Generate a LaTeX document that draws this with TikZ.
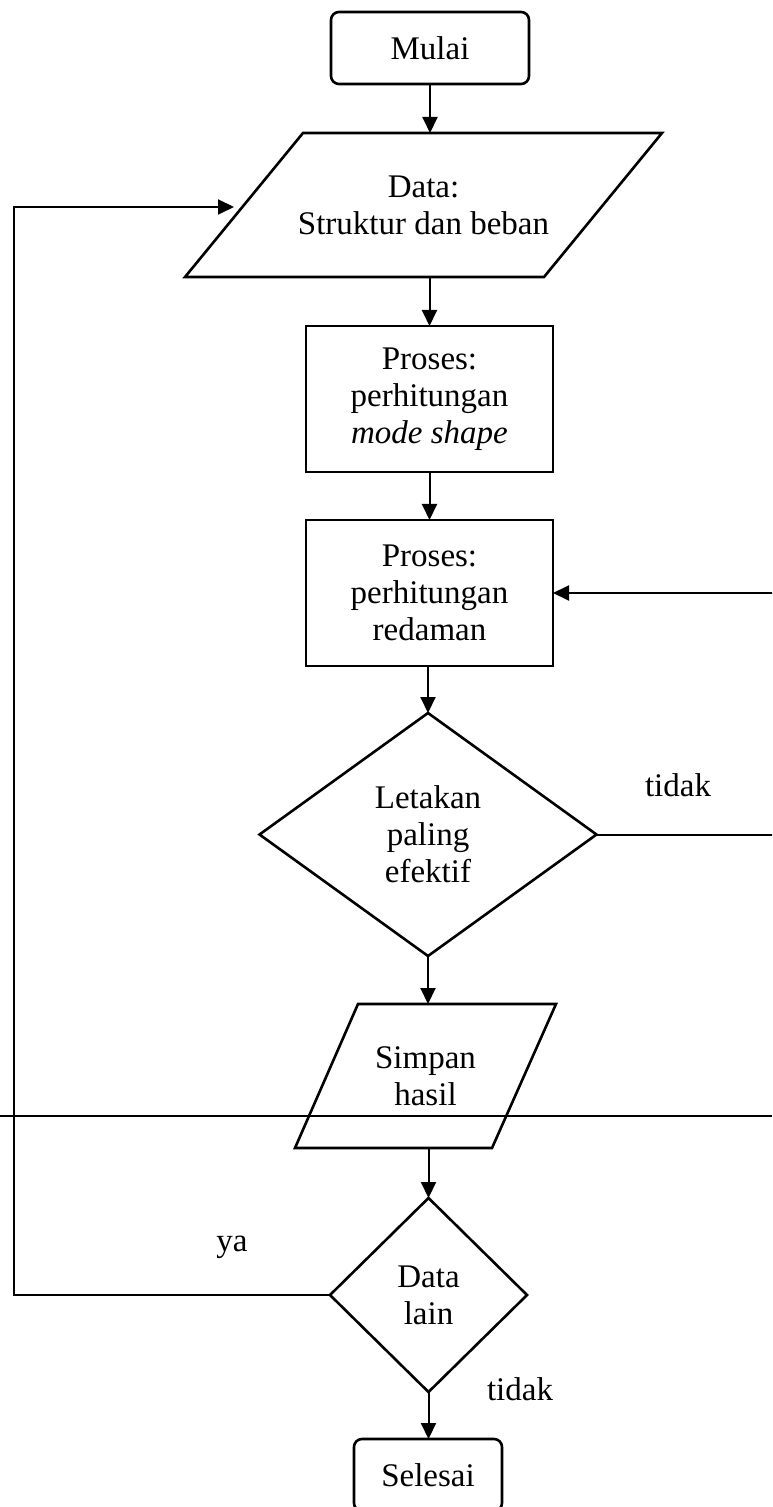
\documentclass[tikz,border=0pt]{standalone}
\usepackage{fontspec}
\setmainfont{Liberation Serif}
\usetikzlibrary{arrows.meta,calc}
\newcommand\flowfont{\fontsize{16.5pt}{18.5pt}\selectfont}
\tikzset{
  txt/.style={align=center, inner sep=0pt, outer sep=0pt, font=\flowfont},
  holder/.style={txt, draw=none, rectangle},
  procbox/.style={txt, draw, line width=1.3pt, rectangle, minimum width=123.5pt, minimum height=73pt},
  termbox/.style={txt, draw, line width=1.3pt, rectangle, rounded corners=4pt, minimum height=36pt},
  shp/.style={draw, line width=1.3pt, line join=miter},
  conn/.style={line width=1pt, -{Triangle[length=8pt,width=7.5pt]}},
  scanline/.style={line width=0.7pt},
  lbl/.style={font=\flowfont, inner sep=0pt, outer sep=0pt},
}
\begin{document}
\begin{tikzpicture}[x=0.5pt,y=-0.5pt]
\useasboundingbox (0,0) rectangle (772,1507);
\clip (0,0) rectangle (772,1507);
\fill[white] (0,0) rectangle (772,1507);

% Nodes
\node[termbox, minimum width=99pt] (mulai) at (430,48) {Mulai};

\node[holder, minimum width=238.5pt, minimum height=72pt] (data) at (423.5,205) {Data:\\Struktur dan beban};
\draw[shp] ([xshift=59pt]data.north west) -- (data.north east) -- ([xshift=-59pt]data.south east) -- (data.south west) -- cycle;

\node[procbox] (p1) at (429.5,399) {Proses:\\perhitungan\\\textit{mode shape}};
\node[procbox] (p2) at (429.5,593) {Proses:\\perhitungan\\redaman};

\node[holder, minimum width=168.5pt, minimum height=121.5pt] (d1) at (428,834.5) {Letakan\\paling\\efektif};
\draw[shp] (d1.north) -- (d1.east) -- (d1.south) -- (d1.west) -- cycle;

\node[holder, minimum width=130.5pt, minimum height=72pt] (simpan) at (425.5,1076) {Simpan\\hasil};
\draw[shp] ([xshift=31.5pt]simpan.north west) -- (simpan.north east) -- ([xshift=-32pt]simpan.south east) -- (simpan.south west) -- cycle;

\node[holder, minimum width=98.5pt, minimum height=97pt] (d2) at (428.5,1295) {Data\\lain};
\draw[shp] (d2.north) -- (d2.east) -- (d2.south) -- (d2.west) -- cycle;

\node[termbox, minimum width=74pt] (selesai) at (428,1475) {Selesai};

% Labels
\node[lbl] (tidak1) at (678,785) {tidak};
\node[lbl] (ya) at (232,1247) {ya};
\node[lbl] (tidak2) at (520,1389) {tidak};

% Connectors
\draw[conn] (mulai.south) -- (mulai.south |- data.north);
\draw[conn] (p1.north |- data.south) -- (p1.north);
\draw[conn] (p1.south) -- (p2.north);
\draw[conn] (d1.north |- p2.south) -- (d1.north);
\draw[conn] (d1.south) -- (d1.south |- simpan.north);
\draw[conn] (d2.north |- simpan.south) -- (d2.north);
\draw[conn] (d2.south) -- (d2.south |- selesai.north);

\coordinate (rt1) at (780,834.5);
\coordinate (rt2) at (780,593);
\draw[conn] (d1.east) -- (rt1) -- (rt2) -- (p2.east);

\coordinate (lb) at (14,1295);
\coordinate (din) at (234,207);
\draw[conn] (d2.west) -- (lb) |- (din);

% scan line across the page
\coordinate (sl) at (0,1116);
\coordinate (sr) at (772,1116);
\draw[scanline] (sl) -- (sr);
\end{tikzpicture}
\end{document}
